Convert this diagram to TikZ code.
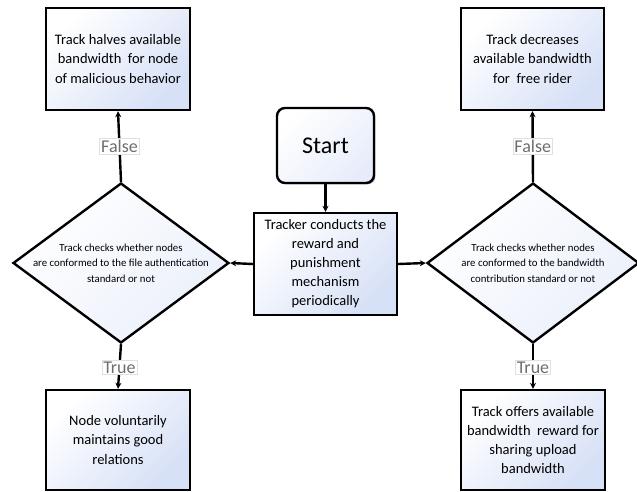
\documentclass[tikz,border=0pt]{standalone}
\usepackage{fontspec}
\setmainfont{Carlito}
\usetikzlibrary{shapes.geometric,arrows.meta,shadows}
\definecolor{boxtint}{RGB}{214,224,246}
\definecolor{lblgray}{RGB}{110,110,110}
\tikzset{
  procbox/.style={draw=black, line width=2.4pt, fill=white,
    top color=white, bottom color=boxtint, shading angle=45,
    drop shadow={shadow xshift=1.4pt, shadow yshift=-1.4pt, fill=black!70},
    align=center, font=\fontsize{14.5}{19.5}\selectfont, inner sep=2pt},
  startbox/.style={draw=black, line width=2.4pt, rounded corners=8pt,
    top color=white, bottom color=boxtint!60, shading angle=45,
    drop shadow={shadow xshift=1.4pt, shadow yshift=-1.4pt, fill=black!70},
    font=\fontsize{24}{26}\selectfont},
  % negative inner sep keeps the diamond at its minimum size despite wide text
  decision/.style={draw=black, line width=2.4pt, diamond, aspect=1.33,
    top color=white, bottom color=boxtint!50, shading angle=45,
    align=center, font=\fontsize{10.8}{15.5}\selectfont, inner sep=-14pt},
  flow/.style={draw=black, line width=2.4pt, -{Stealth[length=6pt,width=6pt]}},
  tflabel/.style={fill=white, draw=black!12, line width=0.5pt, text=lblgray,
    font=\fontsize{18}{19}\selectfont, inner sep=1.5pt}
}
\begin{document}
\begin{tikzpicture}[x=1pt,y=-1pt]
\useasboundingbox (0,0) rectangle (637,492);

% process boxes
\node[procbox, minimum width=144pt, minimum height=102pt] (mal) at (118,59)
  {Track halves available\\bandwidth\ \ for node\\of malicious behavior};
\node[procbox, minimum width=143pt, minimum height=102pt] (free) at (532.5,59)
  {Track decreases\\available bandwidth\\for\ \ free rider};
\node[startbox, minimum width=97pt, minimum height=75pt] (start) at (325.5,145.5) {Start};
\node[procbox, minimum width=143pt, minimum height=102pt,
  font=\fontsize{14.5}{19}\selectfont] (tracker) at (325.5,264)
  {Tracker conducts the\\reward and\\punishment\\mechanism\\periodically};
\node[procbox, minimum width=144pt, minimum height=100pt] (good) at (118,440)
  {Node voluntarily\\maintains good\\relations};
\node[procbox, minimum width=144pt, minimum height=100pt,
  font=\fontsize{14.5}{19}\selectfont] (reward) at (533,440)
  {Track offers available\\bandwidth\ \ reward for\\sharing upload\\bandwidth};

% decisions
\node[decision, minimum width=216pt, minimum height=160pt] (auth) at (121,263)
  {Track checks whether nodes\\are conformed to the file authentication\\standard or not};
\node[decision, minimum width=212pt, minimum height=160pt] (band) at (533,263)
  {Track checks whether nodes\\are conformed to the bandwidth\\contribution standard or not};

% connectors
\draw[flow] (start) -- (tracker);
\draw[flow] (tracker.west) -- (auth.east);
\draw[flow] (tracker.east) -- (band.west);
\draw[flow] (auth.north) -- node[tflabel] {False} (mal.south);
\draw[flow] (auth.south) -- node[tflabel, pos=0.52] {True} (good.north);
\draw[flow] (band.north) -- node[tflabel] {False} (free.south);
\draw[flow] (band.south) -- node[tflabel, pos=0.52] {True} (reward.north);
\end{tikzpicture}
\end{document}
